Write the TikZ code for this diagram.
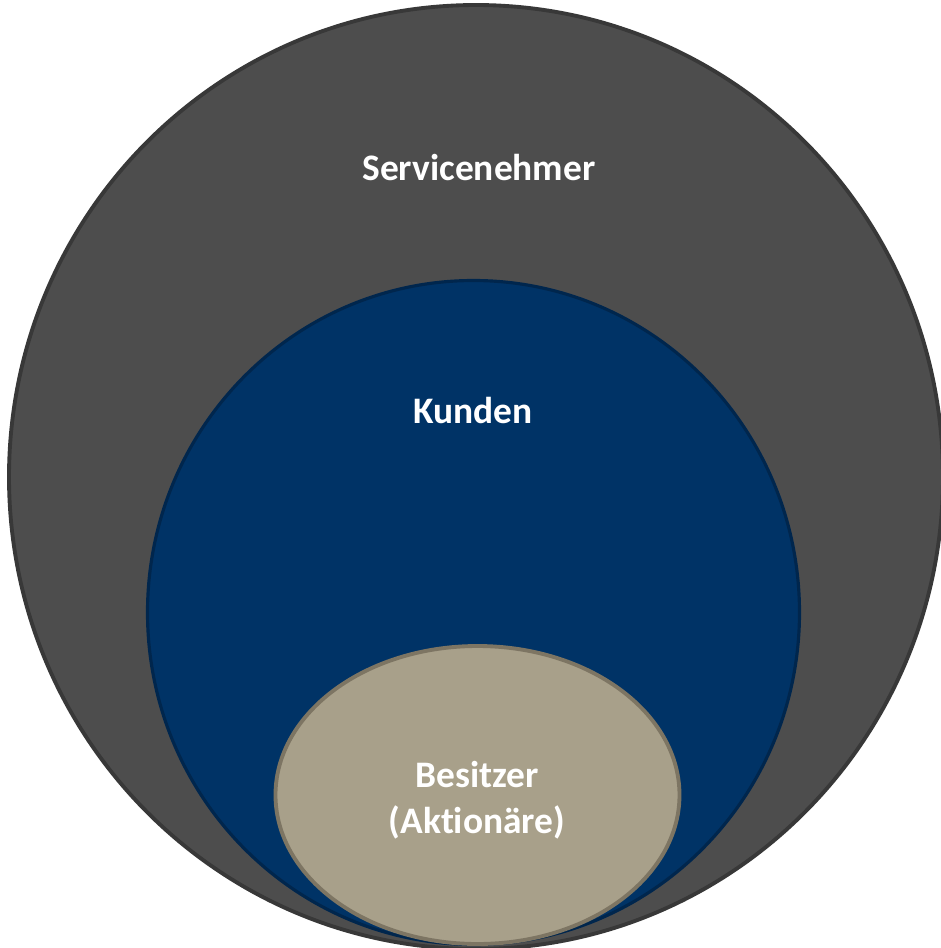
\documentclass[tikz,border=0pt]{standalone}
\usepackage{fontspec}
\setmainfont[Ligatures={NoCommon}]{Carlito}
\definecolor{outerfill}{HTML}{4D4D4D}
\definecolor{outerline}{HTML}{383838}
\definecolor{kundenfill}{HTML}{003366}
\definecolor{kundenline}{HTML}{00264D}
\definecolor{besitzfill}{HTML}{A8A08A}
\definecolor{besitzline}{HTML}{7D7563}
\begin{document}
\begin{tikzpicture}[x=0.02cm,y=-0.02cm,line join=round,line cap=round,
		label/.style={text=white,font=\fontsize{21.3}{26.2}\selectfont\bfseries,align=center}]
	\useasboundingbox (0,0) rectangle (941,948);
	\begin{scope}
		\clip (0,0) rectangle (941,948);
		% Servicenehmer
		\filldraw[fill=outerfill,draw=outerline,line width=2.2pt] (476,477) ellipse [x radius=467,y radius=472];
		% Kunden
		\filldraw[fill=kundenfill,draw=kundenline,line width=1.8pt] (473.5,612.5) ellipse [x radius=326,y radius=332];
		% Besitzer
		\filldraw[fill=besitzfill,draw=besitzline,line width=2.2pt] (477.5,795) ellipse [x radius=202,y radius=149];
	\end{scope}
	\node[label] (service) at (479,168) {Servicenehmer};
	\node[label] (kunden) at (473,410) {Kunden};
	\node[label] (besitzer) at (477,800) {Besitzer\\(Aktionäre)};
\end{tikzpicture}
\end{document}
